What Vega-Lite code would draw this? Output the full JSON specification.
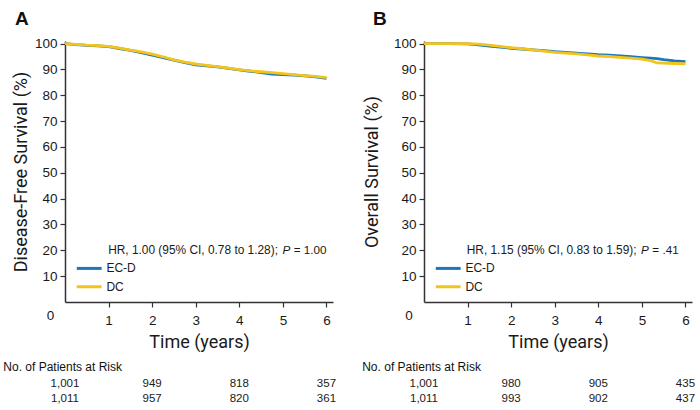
{
  "$schema": "https://vega.github.io/schema/vega-lite/v6.json",
  "background": "white",
  "padding": {"left": 3, "top": 9, "right": 5, "bottom": 5},
  "datasets": {
    "dfs": [
      {"arm": "EC-D", "time": 0, "survival": 100},
      {"arm": "EC-D", "time": 0.25, "survival": 99.6},
      {"arm": "EC-D", "time": 0.5, "survival": 99.3},
      {"arm": "EC-D", "time": 0.75, "survival": 99.1},
      {"arm": "EC-D", "time": 1, "survival": 98.8},
      {"arm": "EC-D", "time": 1.25, "survival": 98.1},
      {"arm": "EC-D", "time": 1.5, "survival": 97.4},
      {"arm": "EC-D", "time": 1.75, "survival": 96.5},
      {"arm": "EC-D", "time": 2, "survival": 95.5},
      {"arm": "EC-D", "time": 2.25, "survival": 94.6},
      {"arm": "EC-D", "time": 2.5, "survival": 93.6},
      {"arm": "EC-D", "time": 2.75, "survival": 92.6},
      {"arm": "EC-D", "time": 3, "survival": 91.8},
      {"arm": "EC-D", "time": 3.25, "survival": 91.4},
      {"arm": "EC-D", "time": 3.5, "survival": 91},
      {"arm": "EC-D", "time": 3.75, "survival": 90.4},
      {"arm": "EC-D", "time": 4, "survival": 89.8},
      {"arm": "EC-D", "time": 4.25, "survival": 89.3},
      {"arm": "EC-D", "time": 4.5, "survival": 88.8},
      {"arm": "EC-D", "time": 4.75, "survival": 88.2},
      {"arm": "EC-D", "time": 5, "survival": 88},
      {"arm": "EC-D", "time": 5.25, "survival": 87.8},
      {"arm": "EC-D", "time": 5.5, "survival": 87.5},
      {"arm": "EC-D", "time": 5.75, "survival": 87.1},
      {"arm": "EC-D", "time": 6, "survival": 86.5},
      {"arm": "DC", "time": 0, "survival": 100},
      {"arm": "DC", "time": 0.25, "survival": 99.7},
      {"arm": "DC", "time": 0.5, "survival": 99.4},
      {"arm": "DC", "time": 0.75, "survival": 99.2},
      {"arm": "DC", "time": 1, "survival": 98.9},
      {"arm": "DC", "time": 1.25, "survival": 98.2},
      {"arm": "DC", "time": 1.5, "survival": 97.5},
      {"arm": "DC", "time": 1.75, "survival": 96.8},
      {"arm": "DC", "time": 2, "survival": 95.9},
      {"arm": "DC", "time": 2.25, "survival": 94.9},
      {"arm": "DC", "time": 2.5, "survival": 93.7},
      {"arm": "DC", "time": 2.75, "survival": 92.8},
      {"arm": "DC", "time": 3, "survival": 92.1},
      {"arm": "DC", "time": 3.25, "survival": 91.6},
      {"arm": "DC", "time": 3.5, "survival": 91.1},
      {"arm": "DC", "time": 3.75, "survival": 90.5},
      {"arm": "DC", "time": 4, "survival": 89.9},
      {"arm": "DC", "time": 4.25, "survival": 89.4},
      {"arm": "DC", "time": 4.5, "survival": 89.1},
      {"arm": "DC", "time": 4.75, "survival": 88.8},
      {"arm": "DC", "time": 5, "survival": 88.4},
      {"arm": "DC", "time": 5.25, "survival": 88},
      {"arm": "DC", "time": 5.5, "survival": 87.6},
      {"arm": "DC", "time": 5.75, "survival": 87.3},
      {"arm": "DC", "time": 6, "survival": 86.8}
    ],
    "os": [
      {"arm": "EC-D", "time": 0, "survival": 100},
      {"arm": "EC-D", "time": 0.5, "survival": 100},
      {"arm": "EC-D", "time": 1, "survival": 99.9},
      {"arm": "EC-D", "time": 1.25, "survival": 99.5},
      {"arm": "EC-D", "time": 1.5, "survival": 99},
      {"arm": "EC-D", "time": 1.75, "survival": 98.6},
      {"arm": "EC-D", "time": 2, "survival": 98.2},
      {"arm": "EC-D", "time": 2.25, "survival": 97.9},
      {"arm": "EC-D", "time": 2.5, "survival": 97.6},
      {"arm": "EC-D", "time": 2.75, "survival": 97.3},
      {"arm": "EC-D", "time": 3, "survival": 96.9},
      {"arm": "EC-D", "time": 3.25, "survival": 96.6},
      {"arm": "EC-D", "time": 3.5, "survival": 96.3},
      {"arm": "EC-D", "time": 3.75, "survival": 96},
      {"arm": "EC-D", "time": 4, "survival": 95.7},
      {"arm": "EC-D", "time": 4.25, "survival": 95.5},
      {"arm": "EC-D", "time": 4.5, "survival": 95.2},
      {"arm": "EC-D", "time": 4.75, "survival": 94.9},
      {"arm": "EC-D", "time": 5, "survival": 94.6},
      {"arm": "EC-D", "time": 5.2, "survival": 94.4},
      {"arm": "EC-D", "time": 5.35, "survival": 94.2},
      {"arm": "EC-D", "time": 5.5, "survival": 93.8},
      {"arm": "EC-D", "time": 5.75, "survival": 93.3},
      {"arm": "EC-D", "time": 6, "survival": 93},
      {"arm": "DC", "time": 0, "survival": 100},
      {"arm": "DC", "time": 0.5, "survival": 100},
      {"arm": "DC", "time": 1, "survival": 100},
      {"arm": "DC", "time": 1.25, "survival": 99.8},
      {"arm": "DC", "time": 1.5, "survival": 99.4},
      {"arm": "DC", "time": 1.75, "survival": 98.9},
      {"arm": "DC", "time": 2, "survival": 98.4},
      {"arm": "DC", "time": 2.25, "survival": 98},
      {"arm": "DC", "time": 2.5, "survival": 97.6},
      {"arm": "DC", "time": 2.75, "survival": 97.1},
      {"arm": "DC", "time": 3, "survival": 96.6},
      {"arm": "DC", "time": 3.25, "survival": 96.3},
      {"arm": "DC", "time": 3.5, "survival": 96},
      {"arm": "DC", "time": 3.75, "survival": 95.6},
      {"arm": "DC", "time": 4, "survival": 95.2},
      {"arm": "DC", "time": 4.25, "survival": 95},
      {"arm": "DC", "time": 4.5, "survival": 94.7},
      {"arm": "DC", "time": 4.75, "survival": 94.4},
      {"arm": "DC", "time": 5, "survival": 94},
      {"arm": "DC", "time": 5.2, "survival": 93.4},
      {"arm": "DC", "time": 5.35, "survival": 92.5},
      {"arm": "DC", "time": 5.5, "survival": 92.4},
      {"arm": "DC", "time": 5.75, "survival": 92.3},
      {"arm": "DC", "time": 6, "survival": 92.2}
    ],
    "riskA": [
      {"arm": "EC-D", "time": 0, "n": "1,001"},
      {"arm": "EC-D", "time": 2, "n": "949"},
      {"arm": "EC-D", "time": 4, "n": "818"},
      {"arm": "EC-D", "time": 6, "n": "357"},
      {"arm": "DC", "time": 0, "n": "1,011"},
      {"arm": "DC", "time": 2, "n": "957"},
      {"arm": "DC", "time": 4, "n": "820"},
      {"arm": "DC", "time": 6, "n": "361"}
    ],
    "riskB": [
      {"arm": "EC-D", "time": 0, "n": "1,001"},
      {"arm": "EC-D", "time": 2, "n": "980"},
      {"arm": "EC-D", "time": 4, "n": "905"},
      {"arm": "EC-D", "time": 6, "n": "435"},
      {"arm": "DC", "time": 0, "n": "1,011"},
      {"arm": "DC", "time": 2, "n": "993"},
      {"arm": "DC", "time": 4, "n": "902"},
      {"arm": "DC", "time": 6, "n": "437"}
    ]
  },
  "columns": 2,
  "bounds": "flush",
  "spacing": {"row": 74, "column": 91},
  "concat": [
    {
      "width": 268,
      "height": 261,
      "title": {"text": "A", "anchor": "start", "frame": "group", "dx": -50, "offset": 8},
      "resolve": {"axis": {"x": "independent", "y": "independent"}},
      "layer": [
        {
          "data": {"name": "dfs"},
          "mark": {"type": "line", "strokeWidth": 2.8},
          "encoding": {
            "x": {
              "field": "time", "type": "quantitative",
              "scale": {"domain": [0, 6.15], "nice": false},
              "axis": {
                "title": "Time (years)",
                "values": [0, 1, 2, 3, 4, 5, 6],
                "labelOverlap": false,
                "labelOffset": {"condition": {"test": "datum.value == 0", "value": -15}, "value": 0},
                "tickSize": {"condition": {"test": "datum.value == 0", "value": 0}, "value": 5}
              }
            },
            "y": {
              "field": "survival", "type": "quantitative",
              "scale": {"domain": [0, 101], "nice": false},
              "axis": {
                "title": "Disease-Free Survival (%)",
                "values": [10, 20, 30, 40, 50, 60, 70, 80, 90, 100],
                "labelOverlap": false,
                "titlePadding": 4
              }
            },
            "color": {
              "field": "arm", "type": "nominal",
              "scale": {"domain": ["EC-D", "DC"], "range": ["#1b76bb", "#f2c41c"]},
              "legend": null
            }
          }
        },
        {
          "data": {"values": [{}]},
          "mark": {"type": "rule", "strokeWidth": 3},
          "encoding": {
            "x": {"datum": 0.27, "axis": null},
            "x2": {"datum": 0.84},
            "y": {"datum": 13, "axis": null},
            "color": {"datum": "EC-D", "legend": null}
          }
        },
        {
          "data": {"values": [{}]},
          "mark": {"type": "rule", "strokeWidth": 3},
          "encoding": {
            "x": {"datum": 0.27, "axis": null},
            "x2": {"datum": 0.84},
            "y": {"datum": 5.9, "axis": null},
            "color": {"datum": "DC", "legend": null}
          }
        },
        {
          "data": {"values": [{}]},
          "mark": {"type": "text", "align": "left", "baseline": "middle", "fontSize": 12},
          "encoding": {
            "x": {"datum": 0.95, "axis": null},
            "y": {"datum": 13, "axis": null},
            "text": {"value": "EC-D"}
          }
        },
        {
          "data": {"values": [{}]},
          "mark": {"type": "text", "align": "left", "baseline": "middle", "fontSize": 12},
          "encoding": {
            "x": {"datum": 0.95, "axis": null},
            "y": {"datum": 5.9, "axis": null},
            "text": {"value": "DC"}
          }
        },
        {
          "data": {"values": [{}]},
          "mark": {"type": "text", "align": "left", "baseline": "middle", "fontSize": 11.9},
          "encoding": {
            "x": {"datum": 0.99, "axis": null},
            "y": {"datum": 20.1, "axis": null},
            "text": {"value": "HR, 1.00 (95% CI, 0.78 to 1.28);"}
          }
        },
        {
          "data": {"values": [{}]},
          "mark": {"type": "text", "align": "left", "baseline": "middle", "fontSize": 11.7, "fontStyle": "italic"},
          "encoding": {
            "x": {"datum": 4.99, "axis": null},
            "y": {"datum": 20.1, "axis": null},
            "text": {"value": "P"}
          }
        },
        {
          "data": {"values": [{}]},
          "mark": {"type": "text", "align": "left", "baseline": "middle", "fontSize": 11.7},
          "encoding": {
            "x": {"datum": 5.25, "axis": null},
            "y": {"datum": 20.1, "axis": null},
            "text": {"value": "= 1.00"}
          }
        }
      ]
    },
    {
      "width": 268,
      "height": 261,
      "title": {"text": "B", "anchor": "start", "frame": "group", "dx": -51, "offset": 8},
      "resolve": {"axis": {"x": "independent", "y": "independent"}},
      "layer": [
        {
          "data": {"name": "os"},
          "mark": {"type": "line", "strokeWidth": 2.8},
          "encoding": {
            "x": {
              "field": "time", "type": "quantitative",
              "scale": {"domain": [0, 6.15], "nice": false},
              "axis": {
                "title": "Time (years)",
                "values": [0, 1, 2, 3, 4, 5, 6],
                "labelOverlap": false,
                "labelOffset": {"condition": {"test": "datum.value == 0", "value": -15.5}, "value": 0},
                "tickSize": {"condition": {"test": "datum.value == 0", "value": 0}, "value": 5}
              }
            },
            "y": {
              "field": "survival", "type": "quantitative",
              "scale": {"domain": [0, 101], "nice": false},
              "axis": {
                "title": "Overall Survival (%)",
                "values": [10, 20, 30, 40, 50, 60, 70, 80, 90, 100],
                "labelOverlap": false,
                "titlePadding": 12
              }
            },
            "color": {
              "field": "arm", "type": "nominal",
              "scale": {"domain": ["EC-D", "DC"], "range": ["#1b76bb", "#f2c41c"]},
              "legend": null
            }
          }
        },
        {
          "data": {"values": [{}]},
          "mark": {"type": "rule", "strokeWidth": 3},
          "encoding": {
            "x": {"datum": 0.27, "axis": null},
            "x2": {"datum": 0.84},
            "y": {"datum": 13, "axis": null},
            "color": {"datum": "EC-D", "legend": null}
          }
        },
        {
          "data": {"values": [{}]},
          "mark": {"type": "rule", "strokeWidth": 3},
          "encoding": {
            "x": {"datum": 0.27, "axis": null},
            "x2": {"datum": 0.84},
            "y": {"datum": 5.9, "axis": null},
            "color": {"datum": "DC", "legend": null}
          }
        },
        {
          "data": {"values": [{}]},
          "mark": {"type": "text", "align": "left", "baseline": "middle", "fontSize": 12},
          "encoding": {
            "x": {"datum": 0.95, "axis": null},
            "y": {"datum": 13, "axis": null},
            "text": {"value": "EC-D"}
          }
        },
        {
          "data": {"values": [{}]},
          "mark": {"type": "text", "align": "left", "baseline": "middle", "fontSize": 12},
          "encoding": {
            "x": {"datum": 0.95, "axis": null},
            "y": {"datum": 5.9, "axis": null},
            "text": {"value": "DC"}
          }
        },
        {
          "data": {"values": [{}]},
          "mark": {"type": "text", "align": "left", "baseline": "middle", "fontSize": 11.9},
          "encoding": {
            "x": {"datum": 0.98, "axis": null},
            "y": {"datum": 20.1, "axis": null},
            "text": {"value": "HR, 1.15 (95% CI, 0.83 to 1.59);"}
          }
        },
        {
          "data": {"values": [{}]},
          "mark": {"type": "text", "align": "left", "baseline": "middle", "fontSize": 11.7, "fontStyle": "italic"},
          "encoding": {
            "x": {"datum": 4.98, "axis": null},
            "y": {"datum": 20.1, "axis": null},
            "text": {"value": "P"}
          }
        },
        {
          "data": {"values": [{}]},
          "mark": {"type": "text", "align": "left", "baseline": "middle", "fontSize": 11.7},
          "encoding": {
            "x": {"datum": 5.24, "axis": null},
            "y": {"datum": 20.1, "axis": null},
            "text": {"value": "= .41"}
          }
        }
      ]
    },
    {
      "width": 268,
      "height": 30,
      "title": {"text": "No. of Patients at Risk", "anchor": "start", "frame": "group", "dx": -61.7, "fontSize": 12, "fontWeight": "normal", "offset": 2},
      "data": {"name": "riskA"},
      "mark": {"type": "text", "fontSize": 11.5},
      "encoding": {
        "x": {"field": "time", "type": "quantitative", "scale": {"domain": [0, 6.15], "nice": false}, "axis": null},
        "y": {"field": "arm", "type": "nominal", "scale": {"domain": ["EC-D", "DC"]}, "axis": null},
        "text": {"field": "n"}
      }
    },
    {
      "width": 268,
      "height": 30,
      "title": {"text": "No. of Patients at Risk", "anchor": "start", "frame": "group", "dx": -61.8, "fontSize": 12, "fontWeight": "normal", "offset": 2},
      "data": {"name": "riskB"},
      "mark": {"type": "text", "fontSize": 11.5},
      "encoding": {
        "x": {"field": "time", "type": "quantitative", "scale": {"domain": [0, 6.15], "nice": false}, "axis": null},
        "y": {"field": "arm", "type": "nominal", "scale": {"domain": ["EC-D", "DC"]}, "axis": null},
        "text": {"field": "n"}
      }
    }
  ],
  "config": {
    "view": {"stroke": null},
    "font": "Liberation Sans",
    "text": {"font": "Liberation Sans", "color": "#1a1a1a"},
    "title": {"font": "Liberation Sans", "fontSize": 19, "fontWeight": "bold", "color": "#111111"},
    "axis": {
      "grid": false,
      "domainColor": "#333333",
      "domainWidth": 1.5,
      "tickColor": "#333333",
      "tickWidth": 1.2,
      "tickSize": 5,
      "labelFont": "Liberation Sans",
      "labelFontSize": 13.5,
      "labelColor": "#1a1a1a",
      "labelFlush": false,
      "labelOverlap": false,
      "labelPadding": 3,
      "titleFont": "Roboto",
      "titleFontSize": 18,
      "titleFontWeight": "normal",
      "titleColor": "#1a1a1a"
    },
    "axisX": {"labelPadding": 6, "titlePadding": 7}
  }
}
